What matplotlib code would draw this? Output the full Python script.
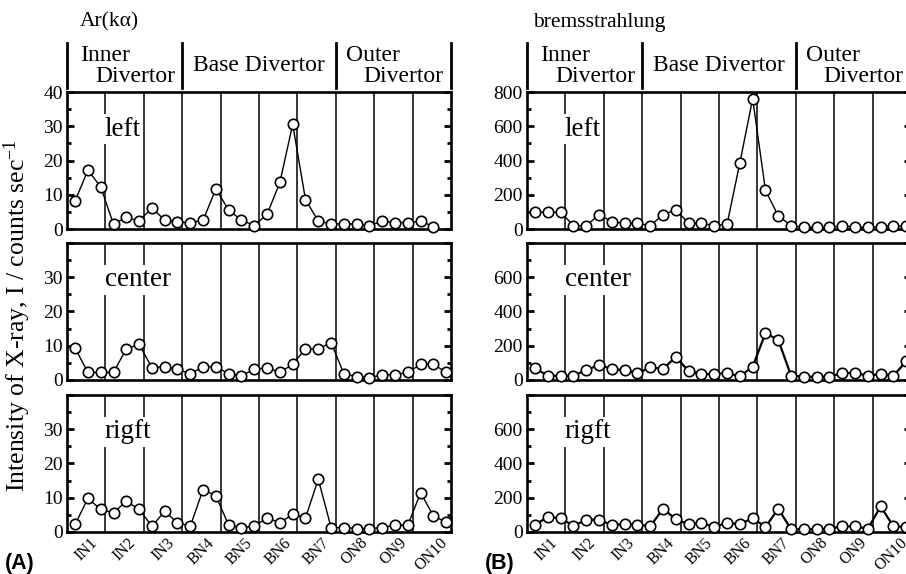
import matplotlib
matplotlib.use('Agg')
import matplotlib.pyplot as plt
import matplotlib.transforms as mtransforms
import numpy as np

plt.rcParams['font.family'] = ['Liberation Serif', 'DejaVu Serif']
plt.rcParams['mathtext.fontset'] = 'custom'
plt.rcParams['mathtext.rm'] = 'Liberation Serif'
plt.rcParams['mathtext.it'] = 'Liberation Serif:italic'

# 10 detector sections, 3 readings each
sections = ['IN1', 'IN2', 'IN3', 'BN4', 'BN5', 'BN6', 'BN7', 'ON8', 'ON9', 'ON10']
positions = ['left', 'center', 'rigft']

ar_left = [8.2, 17.2, 12.3, 1.4, 3.4, 2.3, 6.2, 2.6, 2.1, 1.8, 2.6, 11.7, 5.5, 2.6, 1.0,
           4.3, 13.6, 30.6, 8.6, 2.3, 1.5, 1.5, 1.5, 1.0, 2.3, 1.9, 1.9, 2.3, 0.7, np.nan]
ar_center = [9.3, 2.2, 2.2, 2.2, 9.1, 10.4, 3.6, 3.9, 3.1, 1.8, 3.9, 3.9, 1.8, 1.3, 3.1,
             3.6, 2.2, 4.6, 9.1, 9.1, 10.9, 1.8, 1.0, 0.7, 1.5, 1.5, 2.2, 4.6, 4.6, 2.2]
ar_right = [2.2, 9.8, 6.6, 5.6, 9.0, 6.6, 1.7, 6.0, 2.7, 1.7, 12.4, 10.5, 2.0, 1.3, 1.7,
            4.1, 2.7, 5.2, 4.1, 15.4, 1.3, 1.3, 1.0, 1.0, 1.3, 2.0, 2.0, 11.5, 4.6, 2.9]

br_left = [98, 98, 98, 20, 20, 83, 43, 33, 33, 20, 83, 112, 33, 33, 20,
           28, 387, 760, 226, 77, 20, 10, 10, 10, 20, 10, 10, 14, 20, 15]
br_center = [68, 25, 25, 25, 58, 88, 64, 58, 39, 74, 64, 136, 51, 35, 35,
             41, 21, 78, 273, 234, 25, 19, 19, 19, 41, 41, 25, 35, 25, 109]
br_right = [43, 87, 81, 35, 72, 72, 39, 48, 43, 33, 136, 74, 45, 54, 29,
            54, 45, 81, 29, 136, 16, 16, 16, 19, 33, 33, 19, 149, 33, 29]

ar_data = [ar_left, ar_center, ar_right]
br_data = [br_left, br_center, br_right]

fig = plt.figure(figsize=(9.06, 5.74), dpi=100)

x = np.arange(30)
x0 = -0.63
bounds = [x0 + 3 * k for k in range(11)]
centers = [x0 + 3 * k + 1.5 for k in range(10)]

bottoms = [0.601, 0.338, 0.0732]
h = 0.2387
lefts = [0.0740, 0.5817]
w = 0.4238


def setup(ax, ymax, major, minor, row):
    ax.set_xlim(bounds[0], bounds[-1])
    ax.set_ylim(0, ymax)
    for b in bounds[1:-1]:
        ax.axvline(b, color='black', lw=1.1, zorder=1)
    for s in ax.spines.values():
        s.set_linewidth(1.9)
    ticks = [major * i for i in range(5)]
    ax.set_yticks(ticks)
    labels = [str(t) for t in ticks]
    if row > 0:
        labels[-1] = ''
    ax.set_yticklabels(labels)
    ax.set_yticks([minor + major * i for i in range(4)], minor=True)
    ax.tick_params(axis='y', which='major', direction='in', length=5, width=2,
                   left=True, right=True, labelsize=14, pad=3)
    ax.tick_params(axis='y', which='minor', direction='in', length=3, width=2,
                   left=True, right=True)
    ax.set_xticks(centers)
    if row == 2:
        ax.set_xticklabels(sections, rotation=45, ha='center', fontsize=11.5)
        ax.tick_params(axis='x', length=0, pad=2)
    else:
        ax.set_xticklabels([])
        ax.tick_params(axis='x', length=0)
    tr = mtransforms.blended_transform_factory(ax.transData, ax.transAxes)
    ax.text(2.3, 0.73, positions[row], transform=tr,
            fontsize=19.5, ha='left', va='center', zorder=2,
            bbox=dict(facecolor='white', edgecolor='none', pad=2))


def headers(ax, title, tx):
    tr = mtransforms.blended_transform_factory(ax.transData, ax.transAxes)
    for b in [bounds[0], bounds[3], bounds[7], bounds[10]]:
        ax.plot([b, b], [1.03, 1.36], color='black', lw=2, transform=tr, clip_on=False)
    fs = 17
    ax.text(0.4, 1.265, 'Inner', transform=tr, fontsize=fs, ha='left', va='center')
    ax.text(1.6, 1.115, 'Divertor', transform=tr, fontsize=fs, ha='left', va='center')
    ax.text(14.35, 1.19, 'Base Divertor', transform=tr, fontsize=fs, ha='center', va='center')
    ax.text(21.2, 1.265, 'Outer', transform=tr, fontsize=fs, ha='left', va='center')
    ax.text(22.5, 1.115, 'Divertor', transform=tr, fontsize=fs, ha='left', va='center')
    ax.text(tx, 1.51, title, transform=tr, fontsize=15.5, ha='left', va='center')


for col, (data, ymax, major, minor) in enumerate([(ar_data, 40, 10, 5), (br_data, 800, 200, 100)]):
    for row in range(3):
        ax = fig.add_axes([lefts[col], bottoms[row], w, h])
        lw = 1.0 if (col == 0 or row == 0) else 1.6
        setup(ax, ymax, major, minor, row)
        ax.plot(x, data[row], color='black', lw=lw, marker='o', markersize=7.5,
                markerfacecolor='white', markeredgecolor='black', markeredgewidth=1.2,
                zorder=3, clip_on=False)
        if row == 0:
            if col == 0:
                headers(ax, 'Ar(k\u03b1)', 0.4)
            else:
                headers(ax, 'bremsstrahlung', -0.15)

fig.text(0.019, 0.451, 'Intensity of X-ray, I / counts sec$^{-1}$', rotation=90,
         ha='center', va='center', fontsize=18.5)
fig.text(0.005, 0.019, '(A)', family='Liberation Sans', fontweight='bold', fontsize=15.5, va='center')
fig.text(0.535, 0.019, '(B)', family='Liberation Sans', fontweight='bold', fontsize=15.5, va='center')

fig.savefig('out.png', dpi=100)
